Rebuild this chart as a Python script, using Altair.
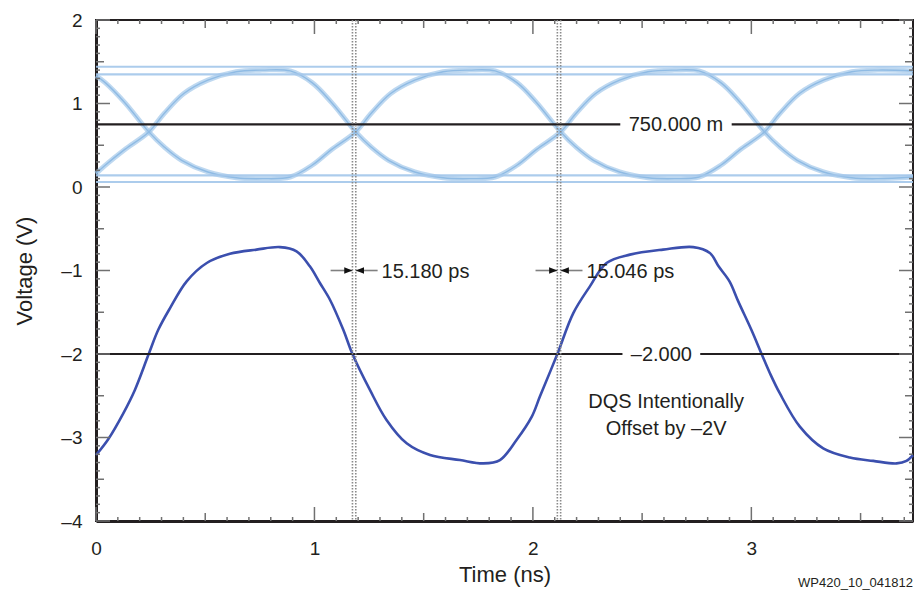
import altair as alt
import pandas as pd

# ---- DQ eye: two complementary toggling strands (time in ns, voltage in V)
dq_a_t = [0.000, 0.042, 0.132, 0.242, 0.312, 0.392, 0.512, 0.642, 0.762, 0.889,
          0.989, 1.079, 1.189, 1.259, 1.349, 1.459, 1.589, 1.709, 1.827, 1.927,
          2.017, 2.127, 2.197, 2.277, 2.397, 2.527, 2.647, 2.760, 2.860, 2.950,
          3.060, 3.130, 3.220, 3.330, 3.460, 3.580, 3.740]
dq_a_v = [1.33, 1.25, 1.01, 0.66, 0.48, 0.32, 0.18, 0.11, 0.10, 0.12,
          0.26, 0.45, 0.66, 0.88, 1.12, 1.28, 1.38, 1.40, 1.39, 1.25,
          1.01, 0.66, 0.48, 0.32, 0.18, 0.11, 0.10, 0.12, 0.26, 0.45,
          0.66, 0.88, 1.12, 1.28, 1.38, 1.40, 1.39]
dq_b_t = [0.000, 0.042, 0.132, 0.242, 0.312, 0.402, 0.512, 0.642, 0.762, 0.889,
          0.989, 1.079, 1.189, 1.259, 1.339, 1.459, 1.589, 1.709, 1.827, 1.927,
          2.017, 2.127, 2.197, 2.287, 2.397, 2.527, 2.647, 2.760, 2.860, 2.950,
          3.060, 3.130, 3.210, 3.330, 3.460, 3.580, 3.740]
dq_b_v = [0.16, 0.26, 0.45, 0.66, 0.88, 1.12, 1.28, 1.38, 1.40, 1.39,
          1.25, 1.01, 0.66, 0.48, 0.32, 0.18, 0.11, 0.10, 0.12, 0.26,
          0.45, 0.66, 0.88, 1.12, 1.28, 1.38, 1.40, 1.39, 1.25, 1.01,
          0.66, 0.48, 0.32, 0.18, 0.11, 0.10, 0.12]
# steady high / low strands of the eye
dq_flat_levels = [1.44, 1.35, 0.14, 0.06]

# ---- DQS strobe, offset by -2 V
dqs_t = [0.000, 0.056, 0.125, 0.178, 0.240, 0.285, 0.339, 0.415, 0.507, 0.613,
         0.735, 0.842, 0.918, 0.979, 1.025, 1.071, 1.132, 1.174, 1.254, 1.330,
         1.422, 1.529, 1.666, 1.773, 1.849, 1.925, 1.995, 2.032, 2.112, 2.185,
         2.261, 2.337, 2.444, 2.596, 2.734, 2.810, 2.850, 2.900, 2.940, 3.000,
         3.047, 3.085, 3.130, 3.222, 3.329, 3.451, 3.558, 3.665, 3.710, 3.740]
dqs_v = [-3.21, -3.02, -2.71, -2.43, -2.01, -1.71, -1.45, -1.13, -0.91, -0.80,
         -0.75, -0.72, -0.77, -0.95, -1.15, -1.35, -1.71, -2.00, -2.43, -2.79,
         -3.07, -3.21, -3.27, -3.31, -3.27, -3.03, -2.75, -2.51, -2.00, -1.51,
         -1.19, -0.91, -0.81, -0.75, -0.72, -0.79, -0.95, -1.13, -1.37, -1.71,
         -2.00, -2.23, -2.47, -2.87, -3.13, -3.24, -3.28, -3.31, -3.28, -3.21]

# ---- measurement annotations
ref_levels = [0.750, -2.000]          # threshold cursors (V)
ref_label_t = [2.655, 2.588]          # where each cursor's readout sits (ns)
ref_label_gap = [0.255, 0.178]        # half-width of the break in the cursor line (ns)
dqs_cross = [1.174, 2.112]            # DQS crossings of its threshold (ns)
skew_ps = [15.180, 15.046]            # DQ crossing lag after DQS (ps)
note_lines = ["DQS Intentionally", "Offset by \u20132V"]
figure_id = "WP420_10_041812"

T_MAX = 3.74
W, H = 817, 501
FONT = "Liberation Sans"
INK = "#231f20"
EYE = "#a3c7ea"
DQS = "#3b4fae"
TICK = "#707070"

xs = alt.Scale(domain=[0, T_MAX], nice=False, zero=False)
ys = alt.Scale(domain=[-4, 2], nice=False, zero=False)


def dash(v):
    return f"{v:.3f}".replace("-", "\u2013")


eye_df = pd.concat([
    pd.DataFrame({"t": dq_a_t, "v": dq_a_v, "trace": "a"}),
    pd.DataFrame({"t": dq_b_t, "v": dq_b_v, "trace": "b"}),
])
flat_df = pd.DataFrame({"v": dq_flat_levels})
dqs_df = pd.DataFrame({"t": dqs_t, "v": dqs_v})

# broken cursor lines with their readouts
seg_rows, lab_rows = [], []
for lvl, c, g in zip(ref_levels, ref_label_t, ref_label_gap):
    seg_rows.append({"a": 0.0, "b": c - g, "v": lvl})
    seg_rows.append({"a": c + g, "b": T_MAX, "v": lvl})
    txt = f"{lvl * 1000:.3f} m" if abs(lvl) < 1 else dash(lvl)
    lab_rows.append({"t": c, "v": lvl, "text": txt})
seg_df = pd.DataFrame(seg_rows)
lab_df = pd.DataFrame(lab_rows)

# skew markers: one dotted line at the DQS crossing, one at the DQ crossing
mark_rows, arrow_rows, skew_rows = [], [], []
for c, s in zip(dqs_cross, skew_ps):
    c2 = c + s / 1000.0
    mark_rows += [{"t": c}, {"t": c2}]
    arrow_rows.append({"a": c - 0.10, "b": c, "dir": "r"})
    arrow_rows.append({"a": c2, "b": c2 + 0.10, "dir": "l"})
    skew_rows.append({"t": c2 + 0.118, "text": f"{s:.3f} ps"})
mark_df = pd.DataFrame(mark_rows)
arrow_df = pd.DataFrame(arrow_rows)
arrow_df["v"] = -1.0
skew_df = pd.DataFrame(skew_rows)
skew_df["v"] = -1.0

note_df = pd.DataFrame({"text": note_lines, "v": [-2.57, -2.90]})
note_df["t"] = 2.61

base_x = alt.X("t:Q", scale=xs, title="Time (ns)",
               axis=alt.Axis(values=[0, 1, 2, 3], format="d", ticks=False, grid=False,
                             labelFlush=False,
                             labelFontSize=19, labelPadding=18, titleFontSize=22,
                             titlePadding=6, titleFontWeight="normal",
                             domainWidth=3, domainColor=INK, labelColor=INK,
                             titleColor=INK, labelFont=FONT, titleFont=FONT))
base_y = alt.Y("v:Q", scale=ys, title="Voltage (V)",
               axis=alt.Axis(values=[-4, -3, -2, -1, 0, 1, 2], format="d",
                             ticks=False, grid=False, labelFlush=False,
                             labelExpr="datum.value < 0 ? '\u2013' + abs(datum.value) : datum.label",
                             labelFontSize=19, labelPadding=14, titleFontSize=22,
                             titlePadding=24, titleFontWeight="normal",
                             domainWidth=3, domainColor=INK, labelColor=INK,
                             titleColor=INK, labelFont=FONT, titleFont=FONT))

eye_band = alt.Chart(eye_df).mark_line(color=EYE, strokeWidth=5, opacity=0.7,
                                       interpolate="catmull-rom").encode(
    x=base_x, y=base_y, detail="trace:N")
eye_core = alt.Chart(eye_df).mark_line(color="#8fbbe4", strokeWidth=1.4,
                                       interpolate="catmull-rom").encode(
    x=alt.X("t:Q", scale=xs), y=alt.Y("v:Q", scale=ys), detail="trace:N")
eye_flat = alt.Chart(flat_df).mark_rule(color=EYE, strokeWidth=2.2, opacity=0.9).encode(
    y=alt.Y("v:Q", scale=ys))

dqs_line = alt.Chart(dqs_df).mark_line(color=DQS, strokeWidth=2.6,
                                       interpolate="catmull-rom").encode(
    x=alt.X("t:Q", scale=xs), y=alt.Y("v:Q", scale=ys))

cursor = alt.Chart(seg_df).mark_rule(color=INK, strokeWidth=2.2).encode(
    x=alt.X("a:Q", scale=xs), x2="b:Q", y=alt.Y("v:Q", scale=ys))
cursor_lab = alt.Chart(lab_df).mark_text(font=FONT, fontSize=20, color=INK,
                                         baseline="middle", dy=1).encode(
    x=alt.X("t:Q", scale=xs), y=alt.Y("v:Q", scale=ys), text="text:N")

dotted = alt.Chart(mark_df).mark_rule(color="#8a8a8a", strokeWidth=1.6,
                                      strokeDash=[1.6, 1.4]).encode(
    x=alt.X("t:Q", scale=xs))

arrow_tail = alt.Chart(arrow_df).mark_rule(color="#808080", strokeWidth=1.6).encode(
    x=alt.X("a:Q", scale=xs), x2="b:Q", y=alt.Y("v:Q", scale=ys))
head_r = alt.Chart(arrow_df).transform_filter("datum.dir == 'r'").mark_point(
    shape="M0,0L-2.2,-0.85L-2.2,0.85Z", filled=True, color="#111", size=56, opacity=1).encode(
    x=alt.X("b:Q", scale=xs), y=alt.Y("v:Q", scale=ys))
head_l = alt.Chart(arrow_df).transform_filter("datum.dir == 'l'").mark_point(
    shape="M0,0L2.2,-0.85L2.2,0.85Z", filled=True, color="#111", size=56, opacity=1).encode(
    x=alt.X("a:Q", scale=xs), y=alt.Y("v:Q", scale=ys))
skew_lab = alt.Chart(skew_df).mark_text(font=FONT, fontSize=20, color=INK, align="left",
                                        baseline="middle", dy=1).encode(
    x=alt.X("t:Q", scale=xs), y=alt.Y("v:Q", scale=ys), text="text:N")

note = alt.Chart(note_df).mark_text(font=FONT, fontSize=20, color=INK,
                                    baseline="middle").encode(
    x=alt.X("t:Q", scale=xs), y=alt.Y("v:Q", scale=ys), text="text:N")

footer = alt.Chart(pd.DataFrame({"text": [figure_id]})).mark_text(
    font=FONT, fontSize=13, color=INK, align="right", baseline="middle").encode(
    x=alt.value(W), y=alt.value(563), text="text:N")

# inward-pointing ticks on all four sides: minor 0.1, mid 0.5, major 1
x_ticks = pd.DataFrame({"t": [i / 10 for i in range(0, 38)]})
x_ticks["k"] = [2 if i % 10 == 0 else (1 if i % 5 == 0 else 0) for i in range(0, 38)]
y_ticks = pd.DataFrame({"v": [-4 + i / 10 for i in range(0, 61)]})
y_ticks["k"] = [2 if i % 10 == 0 else (1 if i % 5 == 0 else 0) for i in range(0, 61)]
tick_len = {0: 4, 1: 8, 2: 14}

tick_layers = []
for k, ln in tick_len.items():
    xk = alt.Chart(x_ticks).transform_filter(f"datum.k == {k}")
    yk = alt.Chart(y_ticks).transform_filter(f"datum.k == {k}")
    rule = dict(color=TICK, strokeWidth=1.5)
    tick_layers += [
        xk.mark_rule(**rule).encode(x=alt.X("t:Q", scale=xs),
                                    y=alt.value(H), y2=alt.value(H - ln)),
        xk.mark_rule(**rule).encode(x=alt.X("t:Q", scale=xs),
                                    y=alt.value(0), y2=alt.value(ln)),
        yk.mark_rule(**rule).encode(y=alt.Y("v:Q", scale=ys),
                                    x=alt.value(0), x2=alt.value(ln)),
        yk.mark_rule(**rule).encode(y=alt.Y("v:Q", scale=ys),
                                    x=alt.value(W), x2=alt.value(W - ln)),
    ]

chart = alt.layer(
    eye_band, eye_core, eye_flat, dqs_line, cursor, dotted,
    arrow_tail, head_r, head_l, cursor_lab, skew_lab, note, footer, *tick_layers
).properties(
    width=W, height=H,
    autosize=alt.AutoSizeParams(type="none"),
    padding={"left": 96, "top": 20, "right": 4, "bottom": 70},
    background="white",
).configure_view(
    stroke=INK, strokeWidth=2
)

chart.save("out.html", embed_options={"renderer": "svg", "actions": False})
